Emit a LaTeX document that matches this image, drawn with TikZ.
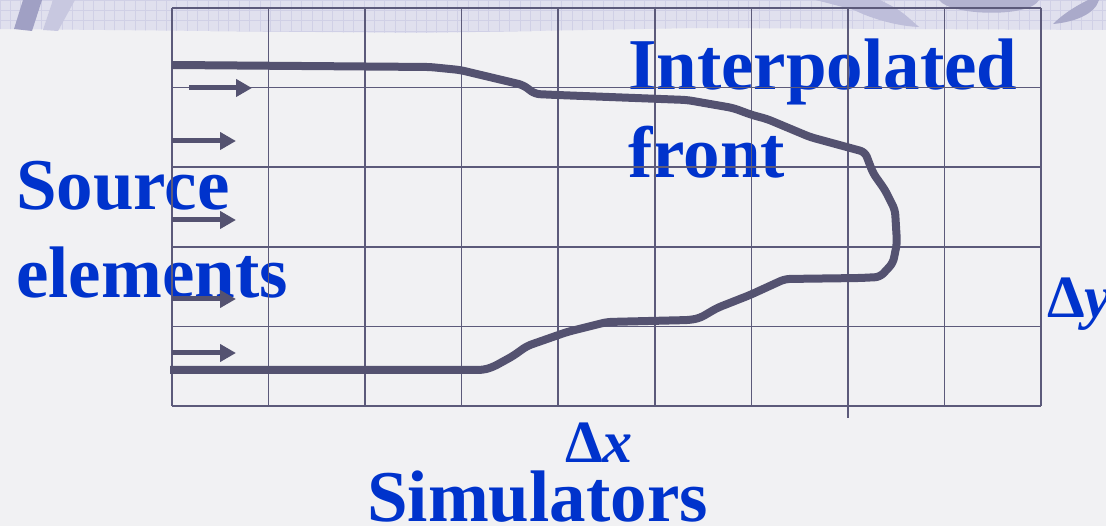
\documentclass[tikz,border=0pt]{standalone}
\usepackage{fontspec}
\setmainfont{Liberation Serif}
\usetikzlibrary{arrows.meta}
\definecolor{slideblue}{RGB}{0,51,204}
\definecolor{gridink}{RGB}{92,90,122}
\definecolor{frontink}{RGB}{84,82,112}
\definecolor{paper}{RGB}{241,241,243}
\definecolor{band}{RGB}{224,224,238}
\definecolor{bandgrid}{RGB}{208,208,230}
\definecolor{swoosh}{RGB}{190,190,218}
\definecolor{swooshdark}{RGB}{160,160,196}
\begin{document}
\begin{tikzpicture}[x=1pt, y=-1pt,
    label/.style={text=slideblue, font=\fontsize{73}{88}\selectfont\bfseries, inner sep=0pt, align=left},
    delta/.style={text=slideblue, font=\fontsize{60}{66}\selectfont\bfseries, inner sep=0pt},
    cell/.style={draw=gridink, line width=1.6pt},
    src/.style={draw=frontink, line width=5pt, -{Triangle[length=16pt,width=17pt]}},
    front/.style={draw=frontink, line width=8pt, line join=round, rounded corners=5pt}]
  \useasboundingbox (0,0) rectangle (1106,526);
  % Slide background
  \fill[paper] (0,0) rectangle (1106,526);
  \fill[band] (0,0) -- (1106,0) -- (1106,30) -- (700,28) -- (420,33) -- (0,29) -- cycle;
  \begin{scope}
    \clip (0,0) -- (1106,0) -- (1106,30) -- (700,28) -- (420,33) -- (0,29) -- cycle;
    \foreach \x in {0,10.4,...,1106}
      \draw[bandgrid, line width=0.8pt] (\x,0) -- (\x,34);
    \foreach \y in {0,10.4,20.8,31.2}
      \draw[bandgrid, line width=0.8pt] (0,\y) -- (1106,\y);
  \end{scope}
  % Template marks
  \fill[swooshdark] (23,0) -- (42,0) -- (32,31) -- (14,29) -- cycle;
  \fill[swoosh!85] (53,0) -- (75,0) -- (58,31) -- (43,30) -- cycle;
  \fill[swoosh] (816,0) .. controls (850,8) and (900,14) .. (919,27) .. controls (890,26) and (850,12) .. (840,0) -- cycle;
  \fill[swoosh] (816,0) -- (880,0) .. controls (900,10) .. (919,27) -- cycle;
  \fill[swooshdark!80] (939,0) .. controls (950,16) and (1030,18) .. (1039,0) -- cycle;
  \fill[swooshdark!90] (1099,0) .. controls (1095,14) and (1075,22) .. (1053,24) .. controls (1065,12) and (1080,4) .. (1088,0) -- cycle;
  % Labels (base = last line)
  \node[label, anchor=base west] (source) at (16,298) {Source\\elements};
  \node[label, anchor=base west] (interp) at (628,178) {Interpolated\\front};
  \node[label, anchor=base west] (sims) at (367,521) {Simulators};
  \node[delta, anchor=base west] (dx) at (565,463) {Δ\textit{x}};
  \node[delta, anchor=base west] (dy) at (1047,318) {Δ\textit{y}};
  % Grid
  \foreach \i in {0,...,9}
    \draw[cell] ({172+96.56*\i},8) -- ({172+96.56*\i},406);
  \foreach \j in {0,...,5}
    \draw[cell] (172,{8+79.6*\j}) -- (1041,{8+79.6*\j});
  \draw[cell] (848,406) -- (848,418);
  % Interpolated front
  \draw[front] (172,65) -- (430,67) -- (460,70) -- (523,85) -- (535,94) -- (557,95)
    -- (687,100) -- (733,108) -- (752,115) -- (767,119) -- (810,137) -- (865,152)
    -- (873,173) -- (885,190) -- (895,210) -- (897,243) -- (893,263) -- (880,277)
    -- (860,278) -- (785,279) -- (750,295) -- (717,308) -- (700,318) -- (690,320)
    -- (607,322) -- (567,332) -- (527,346) -- (513,356) -- (493,367) -- (483,370)
    -- (170,370);
  % Source arrows
  \draw[src] (189,88) -- (252,88);
  \foreach \y in {141,220,299,353}
    \draw[src] (172,\y) -- (236,\y);
\end{tikzpicture}
\end{document}
